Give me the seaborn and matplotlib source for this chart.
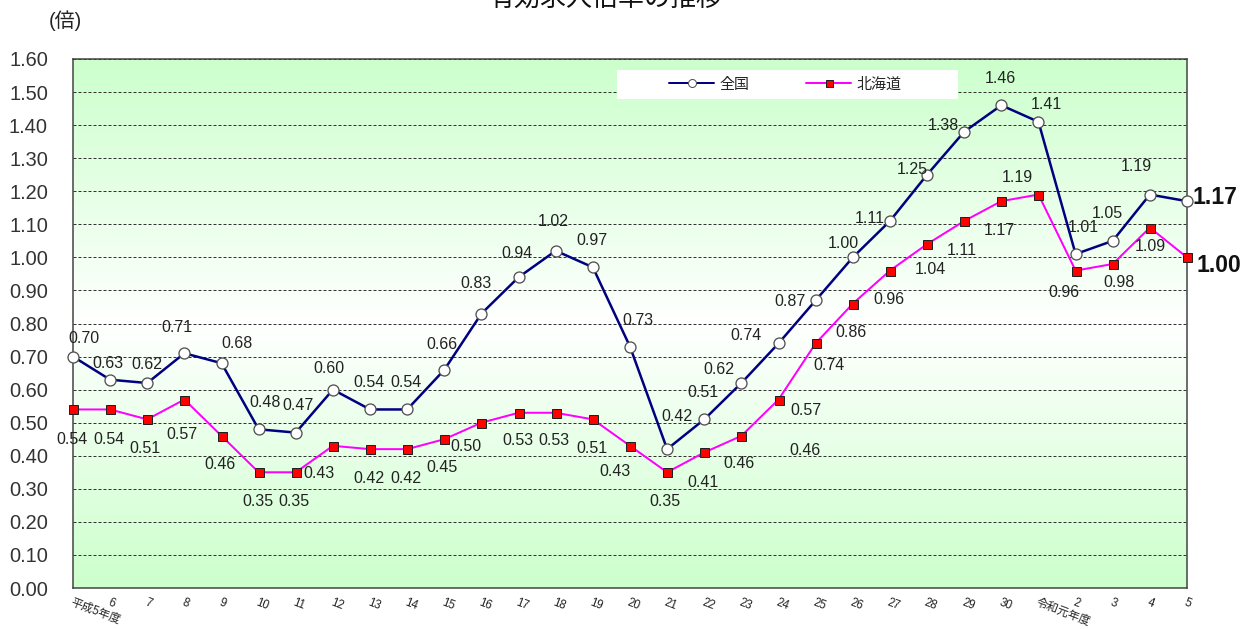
import numpy as np
import pandas as pd
import matplotlib
matplotlib.use("Agg")
import matplotlib.pyplot as plt
import seaborn as sns
from matplotlib.lines import Line2D
from matplotlib.patches import Rectangle

# ---------------- data ----------------
years = ["平成5年度", "6", "7", "8", "9", "10", "11", "12", "13", "14", "15", "16",
         "17", "18", "19", "20", "21", "22", "23", "24", "25", "26", "27", "28",
         "29", "30", "令和元年度", "2", "3", "4", "5"]
national = [0.70, 0.63, 0.62, 0.71, 0.68, 0.48, 0.47, 0.60, 0.54, 0.54, 0.66, 0.83,
            0.94, 1.02, 0.97, 0.73, 0.42, 0.51, 0.62, 0.74, 0.87, 1.00, 1.11, 1.25,
            1.38, 1.46, 1.41, 1.01, 1.05, 1.19, 1.17]
hokkaido = [0.54, 0.54, 0.51, 0.57, 0.46, 0.35, 0.35, 0.43, 0.42, 0.42, 0.45, 0.50,
            0.53, 0.53, 0.51, 0.43, 0.35, 0.41, 0.46, 0.57, 0.74, 0.86, 0.96, 1.04,
            1.11, 1.17, 1.19, 0.96, 0.98, 1.09, 1.00]
series_names = ["全国", "北海道"]
y_ticks = [round(0.1 * i, 2) for i in range(17)]

# label offsets (pixels; +x right, +y down)
nat_off = [(11, -18), (-2, -16), (0, -19), (-7, -26), (15, -20), (6, -27), (2, -27),
           (-4, -21), (-1, -27), (-1, -27), (-2, -25), (-5, -30), (-2, -24), (-2, -29),
           (-1, -27), (8, -26), (10, -33), (-1, -27), (-23, -14), (-33, -8), (-26, 1),
           (-9, -14), (-20, -3), (-15, -5), (-21, -6), (-1, -27), (8, -17), (8, -27),
           (-5, -27), (-14, -28), None]
hok_off = [(-1, 30), (-1, 30), (-2, 29), (-2, 35), (-2, 29), (-1, 29), (-2, 29),
           (-14, 28), (-1, 29), (-1, 29), (-2, 28), (-16, 24), (-1, 28), (-2, 28),
           (-1, 29), (-15, 26), (-2, 29), (-1, 30), (-2, 28), (27, 11), (13, 22),
           (-2, 29), (-1, 29), (3, 25), (-2, 29), (-2, 29), (-21, -17), (-12, 22),
           (6, 19), (0, 19), None]

# ---------------- style ----------------
sns.set_theme(style="white")
plt.rcParams["font.family"] = ["Liberation Sans", "Noto Sans CJK JP", "DejaVu Sans"]

W, H = 1253, 629
fig = plt.figure(figsize=(W / 72, H / 72), dpi=72)
fig.patch.set_facecolor("white")
ax = fig.add_axes([73 / W, 41 / H, 1114 / W, 529 / H])

x = np.arange(len(years))
df = pd.DataFrame({"x": x, "全国": national, "北海道": hokkaido})

# gradient background (green - white - green)
t = np.linspace(0, 1, 256)
d = np.abs(t - 0.5) * 2
green = np.array([204, 255, 204]) / 255.0
white = np.array([1.0, 1.0, 1.0])
grad = (white[None, :] * (1 - d[:, None]) + green[None, :] * d[:, None])[:, None, :]
ax.imshow(grad, origin="lower", extent=[0, len(years) - 1, 0, 1.6],
          aspect="auto", zorder=0, interpolation="bilinear")

sns.lineplot(data=df, x="x", y="全国", ax=ax, color="#000080", linewidth=2.5,
             marker="o", markersize=11, markerfacecolor="white",
             markeredgecolor="#505050", markeredgewidth=1.3, zorder=8,
             clip_on=False, legend=False)
sns.lineplot(data=df, x="x", y="北海道", ax=ax, color="#ff00ff", linewidth=2.0,
             marker="s", markersize=9, markerfacecolor="#ff0000",
             markeredgecolor="#202020", markeredgewidth=1.0, zorder=7,
             clip_on=False, legend=False)

ax.set_xlim(0, len(years) - 1)
ax.set_ylim(0, 1.6)
ax.set_xlabel("")
ax.set_ylabel("")

ax.set_yticks(y_ticks)
ax.set_yticklabels([f"{v:.2f}" for v in y_ticks], fontsize=20, color="#333333")
ax.tick_params(axis="y", length=0, pad=25)

ax.set_xticks(x)
ax.set_xticklabels(years, fontsize=11.5, color="#222222", rotation=-21,
                   rotation_mode="anchor", ha="left", va="top")
ax.tick_params(axis="x", direction="in", length=5, width=1, color="#404040", pad=9)

ax.grid(axis="y", color="#333333", linestyle=(0, (3, 2)), linewidth=1.0)
ax.grid(axis="x", visible=False)
ax.set_axisbelow("line")
for s in ax.spines.values():
    s.set_visible(True)
    s.set_color("#404040")
    s.set_linewidth(1.5)
    s.set_zorder(6)

# data labels
lbl_kw = dict(textcoords="offset points", ha="center", va="center",
              fontsize=16, color="#222222", zorder=9)
for i, v in enumerate(national):
    if nat_off[i] is None:
        ax.annotate(f"{v:.2f}", (x[i], v), xytext=(6, 4), textcoords="offset points",
                    ha="left", va="center", fontsize=23, fontweight="bold",
                    color="#111111", zorder=9, annotation_clip=False)
    else:
        dx, dy = nat_off[i]
        ax.annotate(f"{v:.2f}", (x[i], v), xytext=(dx, -dy), **lbl_kw)
for i, v in enumerate(hokkaido):
    if hok_off[i] is None:
        ax.annotate(f"{v:.2f}", (x[i], v), xytext=(9, -8), textcoords="offset points",
                    ha="left", va="center", fontsize=23, fontweight="bold",
                    color="#111111", zorder=9, annotation_clip=False)
    else:
        dx, dy = hok_off[i]
        ax.annotate(f"{v:.2f}", (x[i], v), xytext=(dx, -dy), **lbl_kw)
# stray duplicated label seen in the original (value of 平成23 北海道)
ax.annotate(f"{hokkaido[18]:.2f}", (x[18], hokkaido[18]), xytext=(64, -15), **lbl_kw)

# legend on a white box
ax.add_patch(Rectangle((0.4883, 0.924), 0.3061, 0.055, transform=ax.transAxes,
                       facecolor="white", edgecolor="none", zorder=10))
handles = [
    Line2D([], [], color="#000080", linewidth=2.0, marker="o", markersize=8,
           markerfacecolor="white", markeredgecolor="#505050"),
    Line2D([], [], color="#ff00ff", linewidth=2.0, marker="s", markersize=7,
           markerfacecolor="#ff0000", markeredgecolor="#202020"),
]
leg = ax.legend(handles, series_names, loc="center", bbox_to_anchor=(0.6395, 0.9515),
                ncol=2, frameon=False, fontsize=15, handlelength=3.0,
                handletextpad=0.35, columnspacing=3.8)
leg.set_zorder(11)

fig.text(65 / W, 1 - 21 / H, "(倍)", ha="center", va="center", fontsize=20,
         color="#222222")
fig.text(606 / W, 1 + 2 / H, "有効求人倍率の推移", ha="center", va="center",
         fontsize=26, color="#111111")

fig.savefig("out.png", dpi=72)
